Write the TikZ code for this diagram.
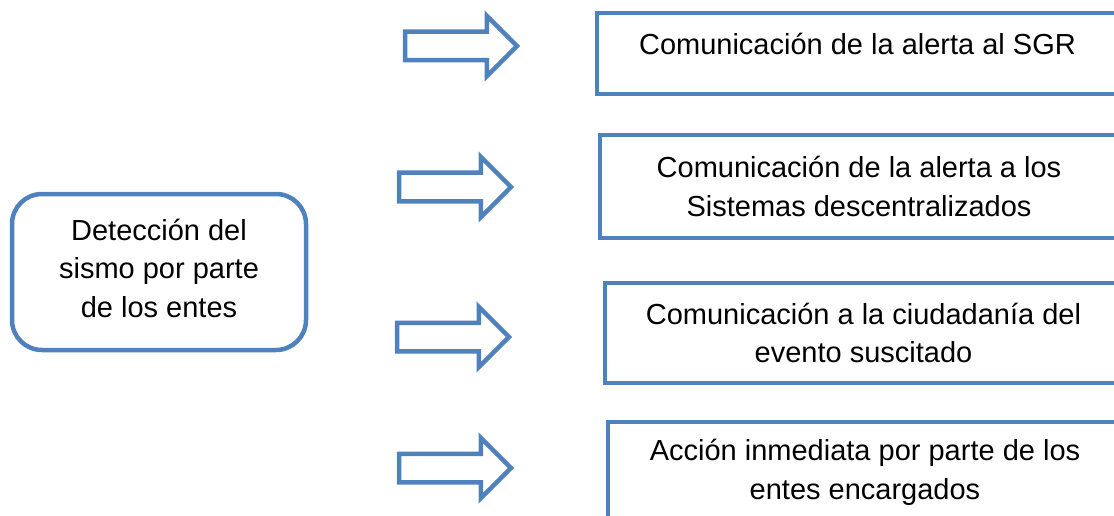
\documentclass[tikz,border=0pt]{standalone}
\usepackage{fontspec}
\setmainfont{Liberation Sans}
\usetikzlibrary{shapes.arrows}
\definecolor{sgrblue}{HTML}{4F81BD}
\tikzset{
  textos/.style={font=\fontsize{29}{38.5}\selectfont, align=center},
  caja/.style={textos, draw=sgrblue, line width=4.5pt, rectangle, anchor=north west, outer sep=0pt, inner sep=0pt},
  flecha/.style={single arrow, draw=sgrblue, line width=4.5pt, fill=white, inner xsep=0pt, inner ysep=12pt,
    minimum height=112pt, single arrow head extend=16pt, anchor=tail, outer sep=0pt},
}
\begin{document}
\begin{tikzpicture}[x=1pt,y=-1pt]
  \clip (0,0) rectangle (1114,516);

  \node[caja, rounded corners=30pt, minimum width=294pt, minimum height=156pt, text height=123pt, text depth=33pt] (deteccion) at (12,194)
    {Detección del\\sismo por parte\\de los entes};

  \node[caja, minimum width=521pt, minimum height=81pt, text height=42pt, text depth=39pt] (sgr) at (597,13)
    {Comunicación de la alerta al SGR};
  \node[caja, minimum width=518pt, minimum height=103pt] (sistemas) at (600,135)
    {Comunicación de la alerta a los\\Sistemas descentralizados};
  \node[caja, minimum width=517pt, minimum height=100pt] (ciudadania) at (605,283)
    {Comunicación a la ciudadanía del\\evento suscitado};
  \node[caja, minimum width=514pt, minimum height=130pt, text height=77pt, text depth=53pt] (accion) at (608,422)
    {Acción inmediata por parte de los\\entes encargados};

  \node[flecha] (f1) at (405,46) {};
  \node[flecha] (f2) at (399,187) {};
  \node[flecha] (f3) at (397,337) {};
  \node[flecha] (f4) at (399,468) {};
\end{tikzpicture}
\end{document}
